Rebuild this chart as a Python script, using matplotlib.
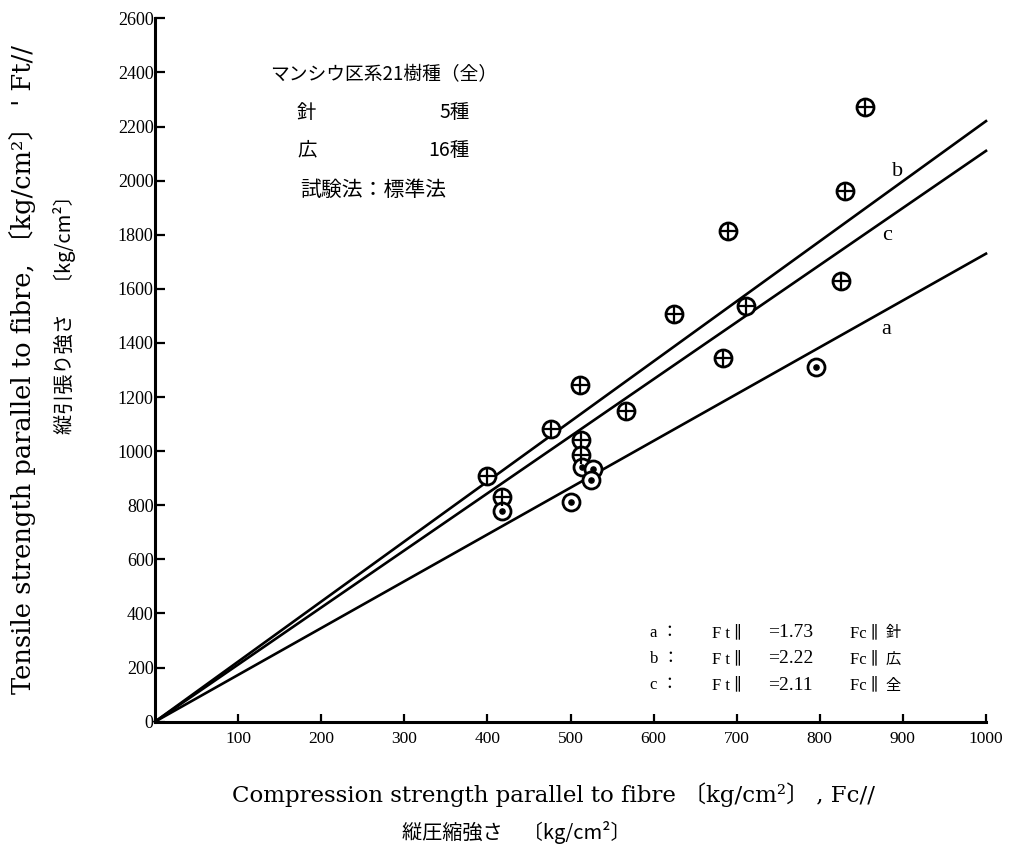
import numpy as np
from matplotlib import pyplot as plt

# hardwood species (広), drawn as circled plus
hard_fc = [854, 830, 689, 825, 711, 624, 683, 511, 567, 476, 399, 513, 513, 418]
hard_ft = [2273, 1963, 1814, 1630, 1536, 1506, 1346, 1245, 1149, 1081, 908, 1041, 986, 832]
# softwood species (針), drawn as circled dot
soft_fc = [796, 514, 527, 525, 500, 418]
soft_ft = [1312, 943, 934, 893, 813, 779]

# regression lines Ft = k * Fc
line_names = ["a", "b", "c"]
line_slopes = [1.73, 2.22, 2.11]
line_groups = ["針", "広", "全"]

x_ticks = [100, 200, 300, 400, 500, 600, 700, 800, 900, 1000]
y_ticks = list(range(0, 2601, 200))

SERIF = ["Liberation Serif", "DejaVu Serif", "Noto Sans CJK JP"]
SERIF_W = ["DejaVu Serif", "Noto Sans CJK JP"]
JP = ["Noto Sans CJK JP", "DejaVu Sans"]

fig = plt.figure(figsize=(10.14, 8.51), dpi=100)
ax = fig.add_axes([155 / 1014, 1 - 721.7 / 851, (986 - 155) / 1014, (721.7 - 18.3) / 851])
ax.set_xlim(0, 1000)
ax.set_ylim(0, 2600)

for s in ["top", "right"]:
    ax.spines[s].set_visible(False)
for s in ["left", "bottom"]:
    ax.spines[s].set_linewidth(2.2)

ax.set_xticks(x_ticks)
ax.set_xticklabels([str(t) for t in x_ticks], fontfamily=SERIF, fontsize=12.5)
ax.set_yticks(y_ticks)
ax.set_yticklabels([str(t) for t in y_ticks], fontfamily=SERIF, fontsize=13)
ax.tick_params(axis="x", direction="in", length=6, width=1.6, pad=7)
ax.tick_params(axis="y", direction="in", length=7, width=1.6, pad=1)

# lines through origin
xs = np.array([0, 1000])
for k in line_slopes:
    ax.plot(xs, k * xs, color="black", lw=1.9, zorder=2, clip_on=False)

# line tags
tag_pos = {"a": (880, 1448), "b": (893, 2032), "c": (881, 1796)}
for n in line_names:
    ax.text(*tag_pos[n], n, fontfamily=SERIF, fontsize=16, ha="center", va="center")

# points
ax.scatter(hard_fc, hard_ft, s=150, facecolors="white", edgecolors="black",
           linewidths=2.0, zorder=3)
ax.scatter(hard_fc, hard_ft, s=150, marker="+", c="black", linewidths=1.6, zorder=4)
ax.scatter(soft_fc, soft_ft, s=150, facecolors="white", edgecolors="black",
           linewidths=2.0, zorder=3)
ax.scatter(soft_fc, soft_ft, s=14, c="black", zorder=4)

# equations, bottom right
rows_y = [328, 232, 135]
for n, k, g, yy in zip(line_names, line_slopes, line_groups, rows_y):
    ax.text(596, yy, n + " ：", fontfamily=SERIF, fontsize=12, va="center")
    ax.text(670, yy, "F t ∥", fontfamily=SERIF, fontsize=12, va="center")
    ax.text(738, yy, "=" + "%.2f" % k, fontfamily=SERIF, fontsize=14, va="center")
    ax.text(836, yy, "Fc ∥", fontfamily=SERIF, fontsize=12, va="center")
    ax.text(879, yy, g, fontfamily=JP, fontsize=11, va="center")

# header block
def fx(px):
    return px / 1014

def fy(py):
    return 1 - py / 851

fig.text(fx(270), fy(75), "マンシウ区系21樹種（全）", fontfamily=JP, fontsize=13.5, va="center")
fig.text(fx(297), fy(113), "針", fontfamily=JP, fontsize=14, va="center")
fig.text(fx(470), fy(113), "5種", fontfamily=JP, fontsize=14, va="center", ha="right")
fig.text(fx(297), fy(150), "広", fontfamily=JP, fontsize=14, va="center")
fig.text(fx(470), fy(150), "16種", fontfamily=JP, fontsize=14, va="center", ha="right")
fig.text(fx(300), fy(190), "試験法：標準法", fontfamily=JP, fontsize=15, va="center")

# axis titles
fig.text(fx(22), fy(370), "Tensile strength parallel to fibre, 〔kg/cm²〕 ' Ft//",
         fontfamily=SERIF_W, fontsize=18.5, rotation=90, ha="center", va="center")
fig.text(fx(65), fy(310), "縦引張り強さ　〔kg/cm²〕",
         fontfamily=JP + ["DejaVu Serif"], fontsize=14.5, rotation=90, ha="center", va="center")
fig.text(fx(554), fy(795), "Compression strength parallel to fibre 〔kg/cm²〕 , Fc//",
         fontfamily=SERIF_W, fontsize=16.5, ha="center", va="center")
fig.text(fx(516), fy(832), "縦圧縮強さ　〔kg/cm²〕",
         fontfamily=JP, fontsize=14.5, ha="center", va="center")

fig.savefig("out.png", dpi=100, facecolor="white")
